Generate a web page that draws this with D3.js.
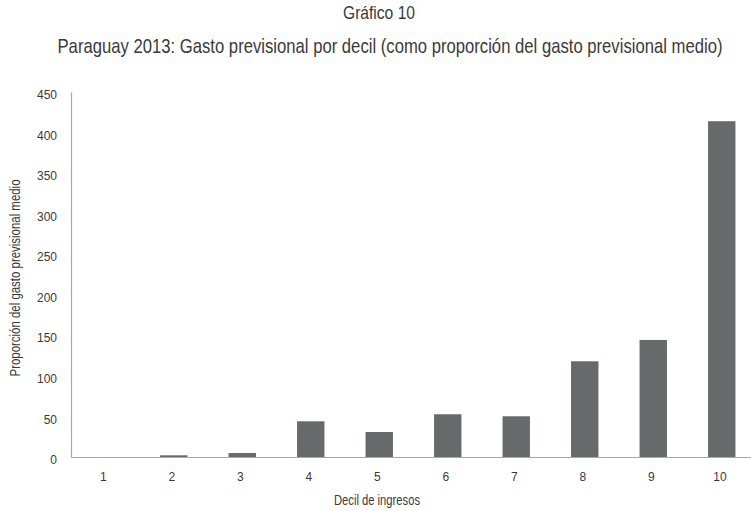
<!DOCTYPE html>
<html>
<head>
<meta charset="utf-8">
<script src="https://cdn.jsdelivr.net/npm/d3@7"></script>
<style>
  body { margin: 0; background: #fff; }
  svg { display: block; }
  text { font-family: "Liberation Sans", Arial, sans-serif; fill: #3a3a3a; }
</style>
</head>
<body>
<svg id="chart" width="751" height="511"></svg>
<script>
const title = "Gráfico 10";
const subtitle = "Paraguay 2013: Gasto previsional por decil (como proporción del gasto previsional medio)";
const xTitle = "Decil de ingresos";
const yTitle = "Proporción del gasto previsional medio";
const categories = ["1", "2", "3", "4", "5", "6", "7", "8", "9", "10"];
const values = [0, 2.1, 4.9, 44, 30.8, 52.7, 50.2, 118, 144.3, 414];
const yTicks = [0, 50, 100, 150, 200, 250, 300, 350, 400, 450];

const svg = d3.select("#chart");
const x0 = 71, x1 = 756, yBase = 457, yTop = 92;
const FONT = "'Liberation Sans', Arial, sans-serif";

const x = d3.scaleBand().domain(categories).range([x0, x1]).paddingInner(0.6).paddingOuter(0.3);
const y = d3.scaleLinear().domain([0, 450]).range([yBase, yTop]);

// bars
svg.append("g").selectAll("rect").data(values).join("rect")
  .attr("x", (d, i) => x(categories[i]))
  .attr("y", d => y(d))
  .attr("width", x.bandwidth())
  .attr("height", d => yBase - y(d))
  .attr("fill", "#666a6a");

// y axis
const yAxis = svg.append("g").attr("transform", `translate(${x0},0)`)
  .call(d3.axisLeft(y).tickValues(yTicks).tickSize(0).tickPadding(14));
yAxis.select(".domain").attr("stroke", "#a8a8a8").attr("stroke-width", 1.2);
yAxis.selectAll("text").attr("font-size", 12).attr("dy", "0.55em")
  .style("font-family", FONT).attr("fill", "#222");

// x axis
const xAxis = svg.append("g").attr("transform", `translate(0,${yBase})`)
  .call(d3.axisBottom(x).tickSize(0).tickPadding(15));
xAxis.select(".domain").attr("stroke", "#a8a8a8").attr("stroke-width", 1.2);
xAxis.selectAll("text").attr("font-size", 12).attr("dx", "-0.15em")
  .style("font-family", FONT).attr("fill", "#222");

// titles
svg.append("text").attr("x", 379).attr("y", 19).attr("text-anchor", "middle")
  .attr("font-size", 18.5).attr("fill", "#5a5a5a")
  .attr("textLength", 72).attr("lengthAdjust", "spacingAndGlyphs").text(title);
svg.append("text").attr("x", 390).attr("y", 53).attr("text-anchor", "middle")
  .attr("font-size", 21).attr("fill", "#5a5a5a")
  .attr("textLength", 665).attr("lengthAdjust", "spacingAndGlyphs").text(subtitle);
svg.append("text").attr("x", 377).attr("y", 505).attr("text-anchor", "middle")
  .attr("font-size", 14).attr("fill", "#222")
  .attr("textLength", 86).attr("lengthAdjust", "spacingAndGlyphs").text(xTitle);
svg.append("text").attr("transform", "translate(20,278) rotate(-90)").attr("text-anchor", "middle")
  .attr("font-size", 14).attr("fill", "#222")
  .attr("textLength", 197).attr("lengthAdjust", "spacingAndGlyphs").text(yTitle);
</script>
</body>
</html>
